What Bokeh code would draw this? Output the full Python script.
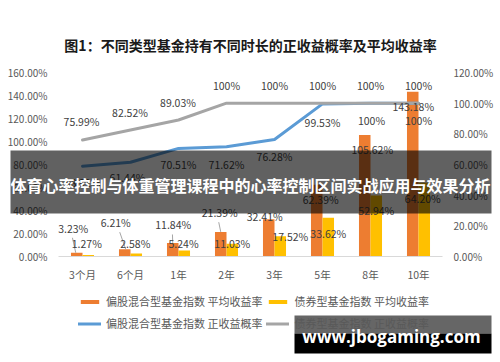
from bokeh.plotting import figure
from bokeh.models import (Range1d, LinearAxis, FixedTicker, PrintfTickFormatter,
                          ColumnDataSource, Legend, LegendItem, BoxAnnotation, Label)
from bokeh.transform import dodge
from bokeh.core.properties import value
from bokeh.embed import file_html
from bokeh.resources import INLINE

# ---------------- data ----------------
categories = ["3个月", "6个月", "1年", "2年", "3年", "5年", "8年", "10年"]
equity_avg_return = [3.23, 6.21, 11.84, 21.39, 32.41, 62.39, 105.62, 143.18]   # 偏股混合型 平均收益率 (left axis, %)
bond_avg_return = [1.27, 2.58, 5.24, 11.03, 17.52, 33.62, 52.94, 64.20]        # 债券型 平均收益率 (left axis, %)
equity_pos_prob = [58.91, 61.44, 70.51, 71.62, 76.28, 99.53, 100, 100]         # 偏股混合型 正收益概率 (right axis, %)
bond_pos_prob = [75.99, 82.52, 89.03, 100, 100, 100, 100, 100]                 # 债券型 正收益概率 (right axis, %)
left_ticks = [0, 20, 40, 60, 80, 100, 120, 140, 160]
right_ticks = [0, 20, 40, 60, 80, 100, 120]

title_text = "图1：不同类型基金持有不同时长的正收益概率及平均收益率"
banner_text = "体育心率控制与体重管理课程中的心率控制区间实战应用与效果分析"
watermark_text = "www.jbogaming.com"
legend_labels = ["偏股混合型基金指数 平均收益率", "债券型基金指数 平均收益率",
                 "偏股混合型基金指数 正收益概率", "债券型基金指数 正收益概率"]

# ---------------- styles / layout ----------------
FONT = "Noto Sans CJK SC"
ORANGE, YELLOW, BLUE, GREY = "#ED7D31", "#FFC000", "#5B9BD5", "#A5A5A5"
TXT = "#404040"
AX = "#595959"

# data-label offsets in px
eq_bar_dx = [-3.5, -9, 0.5, -1, -4, 4, 7.5, 0.5]
eq_bar_dy = [-24, -27, -18.5, -19.5, -3, 15, 14.5, 14.5]
bd_bar_dx = [-1.5, -1, -0.7, 0, 10, 0, 0, -1.5]
bd_bar_dy = [-12, -10, -7, 0, 0, 15.5, 15, 16]
eq_prob_dx = [0, -3, 0, 0, 0, 0, 1, 0]
eq_prob_dy = [16, 15, 16, 18, 17, 18.5, 17.5, 17.5]
bd_prob_dx = [-1, -0.5, -0.5, 0, 0, 0, 0, 0]
bd_prob_dy = [-18, -17.5, -17.5, -17.5, -17.5, -17.5, -17.5, -17.5]
# leader lines for the first four orange labels: offsets (px) relative to bar top
leader_idx = [0, 1, 2, 3]
leader_dx0 = [-4.3, -5, -0.3, -2]
leader_dy0 = [-15, -17.2, -8.4, -9.7]
leader_dx1 = [-1, 1, 0, 0]

W, H = 500, 362
PLOT_L, PLOT_R, PLOT_T, PLOT_B = 58, 442, 72, 256      # plot area inside the canvas (px)
BAR_W = 0.24
N = len(categories)
xs = [i + 0.5 for i in range(N)]                        # category centres
PX_PER_CAT = (PLOT_R - PLOT_L) / N
PX_PER_UNIT = (PLOT_B - PLOT_T) / (left_ticks[-1] - left_ticks[0])
PX_PER_UNIT_R = (PLOT_B - PLOT_T) / (right_ticks[-1] - right_ticks[0])

x_range = Range1d(-PLOT_L / PX_PER_CAT, N + (W - PLOT_R) / PX_PER_CAT)
y_left = Range1d(left_ticks[0] - (H - PLOT_B) / PX_PER_UNIT, left_ticks[-1] + PLOT_T / PX_PER_UNIT)
y_right = Range1d(right_ticks[0] - (H - PLOT_B) / PX_PER_UNIT_R, right_ticks[-1] + PLOT_T / PX_PER_UNIT_R)


def pct(v):
    return "100%" if v == 100 else f"{v:.2f}%"


p = figure(width=W, height=H, x_range=x_range, y_range=y_left,
           output_backend="svg", toolbar_location=None,
           min_border=0, x_axis_location=None, y_axis_location=None)
p.extra_y_ranges = {"prob": y_right}
p.grid.visible = False
p.outline_line_color = None
p.background_fill_color = "white"
p.border_fill_color = "white"

# axes drawn at fixed locations inside the canvas
la = LinearAxis(ticker=FixedTicker(ticks=left_ticks), formatter=PrintfTickFormatter(format="%.2f%%"),
                fixed_location=0)
ra = LinearAxis(y_range_name="prob", ticker=FixedTicker(ticks=right_ticks),
                formatter=PrintfTickFormatter(format="%.2f%%"), fixed_location=N)
xa = LinearAxis(ticker=FixedTicker(ticks=xs), fixed_location=left_ticks[0], bounds=(0, N),
                major_label_overrides={x: c for x, c in zip(xs, categories)})
for ax in (la, ra, xa):
    ax.major_tick_line_color = None
    ax.minor_tick_line_color = None
    ax.major_tick_in = 0
    ax.major_tick_out = 0
    ax.minor_tick_in = 0
    ax.minor_tick_out = 0
    ax.major_label_text_font = FONT
    ax.major_label_text_color = AX
for ax in (la, ra):
    ax.axis_line_color = None
    ax.major_label_text_font_size = "10px"
    ax.major_label_standoff = 11
xa.axis_line_color = "#D9D9D9"
xa.major_label_text_font_size = "10.5px"
xa.major_label_standoff = 10
p.add_layout(la, "left")
p.add_layout(ra, "right")
p.add_layout(xa, "below")

# bars
bar_src = ColumnDataSource(dict(x=xs, eq=equity_avg_return, bd=bond_avg_return,
                                eq_t=[pct(v) for v in equity_avg_return],
                                bd_t=[pct(v) for v in bond_avg_return],
                                eq_dx=eq_bar_dx, eq_dy=eq_bar_dy, bd_dx=bd_bar_dx, bd_dy=bd_bar_dy))
r_eq = p.vbar(x=dodge("x", -BAR_W / 2), top="eq", width=BAR_W, source=bar_src,
              fill_color=ORANGE, line_color=None)
r_bd = p.vbar(x=dodge("x", BAR_W / 2), top="bd", width=BAR_W, source=bar_src,
              fill_color=YELLOW, line_color=None)

# lines
line_src = ColumnDataSource(dict(x=xs, eqp=equity_pos_prob, bdp=bond_pos_prob,
                                 eqp_t=[pct(v) for v in equity_pos_prob],
                                 bdp_t=[pct(v) for v in bond_pos_prob],
                                 eqp_dx=eq_prob_dx, eqp_dy=eq_prob_dy, bdp_dx=bd_prob_dx, bdp_dy=bd_prob_dy))
r_eqp = p.line(x="x", y="eqp", source=line_src, y_range_name="prob", line_color=BLUE,
               line_width=3, line_cap="round", line_join="round")
r_bdp = p.line(x="x", y="bdp", source=line_src, y_range_name="prob", line_color=GREY,
               line_width=3, line_cap="round", line_join="round")

# leader lines (from data values, px offsets converted)
lx0, ly0, lx1, ly1 = [], [], [], []
for k, i in enumerate(leader_idx):
    cx = xs[i] - BAR_W / 2
    lx0.append(cx + leader_dx0[k] / PX_PER_CAT)
    ly0.append(equity_avg_return[i] - leader_dy0[k] / PX_PER_UNIT)
    lx1.append(cx + leader_dx1[k] / PX_PER_CAT)
    ly1.append(equity_avg_return[i])
p.segment(x0=lx0, y0=ly0, x1=lx1, y1=ly1, line_color="#A6A6A6", line_width=1)

# data labels
common = dict(text_align="center", text_baseline="middle", text_font=value(FONT),
              text_font_size="10.5px", text_color=TXT)
p.text(x=dodge("x", -BAR_W / 2), y="eq", text="eq_t", x_offset="eq_dx",
       y_offset="eq_dy", source=bar_src, **common)
p.text(x=dodge("x", BAR_W / 2), y="bd", text="bd_t", x_offset="bd_dx",
       y_offset="bd_dy", source=bar_src, **common)
p.text(x="x", y="eqp", text="eqp_t", x_offset="eqp_dx", y_offset="eqp_dy", source=line_src,
       y_range_name="prob", **common)
p.text(x="x", y="bdp", text="bdp_t", x_offset="bdp_dx", y_offset="bdp_dy", source=line_src,
       y_range_name="prob", **common)

# legend
legend = Legend(items=[LegendItem(label=legend_labels[0], renderers=[r_eq]),
                       LegendItem(label=legend_labels[1], renderers=[r_bd]),
                       LegendItem(label=legend_labels[2], renderers=[r_eqp]),
                       LegendItem(label=legend_labels[3], renderers=[r_bdp])],
                location=(78, 30), orientation="horizontal", ncols=2,
                glyph_width=23, glyph_height=5, label_height=18, label_standoff=5,
                spacing=4, padding=0, margin=0,
                label_text_font=FONT, label_text_font_size="11px", label_text_color=AX,
                background_fill_alpha=0, border_line_color=None)
p.add_layout(legend, "center")

# title
p.add_layout(Label(x=250, y=44, x_units="canvas", y_units="canvas", text=title_text,
                   text_align="center", text_baseline="middle", text_font=FONT,
                   text_font_size="14px", text_font_style="bold", text_color="#1A1A1A"))

# banner overlay
p.add_layout(BoxAnnotation(left=10, right=491, top=150, bottom=213,
                           left_units="canvas", right_units="canvas", top_units="canvas",
                           bottom_units="canvas", fill_color="black", fill_alpha=0.62,
                           line_color=None))
p.add_layout(Label(x=250, y=184, x_units="canvas", y_units="canvas", text=banner_text,
                   text_align="center", text_baseline="middle", text_font=FONT,
                   text_font_size="16px", text_font_style="bold", text_color="white"))

# watermark
p.add_layout(BoxAnnotation(left=294, right=491, top=315, bottom=333,
                           left_units="canvas", right_units="canvas", top_units="canvas",
                           bottom_units="canvas", fill_color="black", fill_alpha=0.6,
                           line_color=None))
p.add_layout(BoxAnnotation(left=294, right=491, top=333, bottom=353,
                           left_units="canvas", right_units="canvas", top_units="canvas",
                           bottom_units="canvas", fill_color="black", fill_alpha=1.0,
                           line_color=None))
p.add_layout(Label(x=391, y=336, x_units="canvas", y_units="canvas", text=watermark_text,
                   text_align="center", text_baseline="middle", text_font="Open Sans",
                   text_font_size="17px", text_font_style="bold", text_color="white"))

open("out.html", "w").write(file_html(p, INLINE))
